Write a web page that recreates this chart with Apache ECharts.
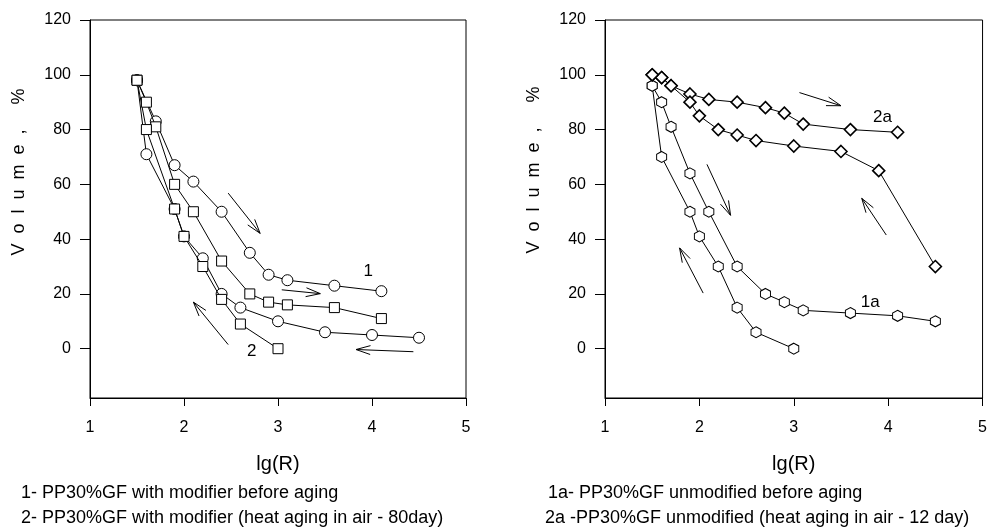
<!DOCTYPE html>
<html>
<head>
<meta charset="utf-8">
<script src="https://cdn.jsdelivr.net/npm/echarts@6/dist/echarts.min.js"></script>
<style>html,body{margin:0;padding:0;background:#fff;}#chart{width:990px;height:531px;}</style>
</head>
<body>
<div id="chart"></div>
<script>
// ---- Data ----
const xTicks = [1, 2, 3, 4, 5];
const yTicks = [0, 20, 40, 60, 80, 100, 120];

// Left panel: curve 1 (circles), curve 2 (squares)
const c1FwdX = [1.5, 1.7, 1.9, 2.1, 2.4, 2.7, 2.9, 3.1, 3.6, 4.1];
const c1FwdY = [98, 83, 67, 61, 50, 35, 27, 25, 23, 21];
const c1RetX = [4.5, 4.0, 3.5, 3.0, 2.6, 2.4, 2.2, 2.0, 1.9, 1.6, 1.5];
const c1RetY = [4, 5, 6, 10, 15, 20, 33, 41, 51, 71, 98];
const c2FwdX = [1.5, 1.6, 1.7, 1.9, 2.1, 2.4, 2.7, 2.9, 3.1, 3.6, 4.1];
const c2FwdY = [98, 90, 81, 60, 50, 32, 20, 17, 16, 15, 11];
const c2RetX = [3.0, 2.6, 2.4, 2.2, 2.0, 1.9, 1.6, 1.5];
const c2RetY = [0, 9, 18, 30, 41, 51, 80, 98];

// Right panel: curve 1a (hexagons), curve 2a (diamonds)
const c1aFwdX = [1.5, 1.6, 1.7, 1.9, 2.1, 2.4, 2.7, 2.9, 3.1, 3.6, 4.1, 4.5];
const c1aFwdY = [96, 90, 81, 64, 50, 30, 20, 17, 14, 13, 12, 10];
const c1aRetX = [3.0, 2.6, 2.4, 2.2, 2.0, 1.9, 1.6, 1.5];
const c1aRetY = [0, 6, 15, 30, 41, 50, 70, 96];
const c2aFwdX = [1.5, 1.6, 1.7, 1.9, 2.1, 2.4, 2.7, 2.9, 3.1, 3.6, 4.1];
const c2aFwdY = [100, 99, 96, 93, 91, 90, 88, 86, 82, 80, 79];
const c2aRetX = [4.5, 3.9, 3.5, 3.0, 2.6, 2.4, 2.2, 2.0, 1.9, 1.7, 1.6, 1.5];
const c2aRetY = [30, 65, 72, 74, 76, 78, 80, 85, 90, 96, 99, 100];

// Annotation arrows [x1, y1, x2, y2] in data units
const leftArrows = [[2.47, 56.8, 2.81, 42.1], [3.04, 21.5, 3.45, 20.1], [2.47, 1.5, 2.10, 17.0], [4.44, -1.1, 3.83, -0.3]];
const rightArrows = [[2.08, 67.3, 2.33, 48.7], [2.04, 20.3, 1.79, 36.8], [3.06, 93.5, 3.50, 88.7], [3.98, 41.5, 3.72, 54.9]];
// Curve labels
const leftLabelText = ['1', '2'];
const leftLabelX = [3.96, 2.72];
const leftLabelY = [28.3, -1];
const rightLabelText = ['2a', '1a'];
const rightLabelX = [3.94, 3.81];
const rightLabelY = [84.4, 17];

const xName = 'lg(R)';
const yName = 'V  o  l  u  m  e  ,     %';
const notesLeft = ['1- PP30%GF with modifier before aging', '2- PP30%GF with modifier (heat aging in air - 80day)'];
const notesRight = ['1a- PP30%GF unmodified before aging', '2a -PP30%GF unmodified (heat aging in air - 12 day)'];

// ---- Chart ----
const FONT = '"Liberation Sans", Arial, sans-serif';
const hexPath = 'path://M0,-1 L0.866,-0.5 L0.866,0.5 L0,1 L-0.866,0.5 L-0.866,-0.5 Z';

function pairs(xs, ys) { return xs.map((x, i) => [x, ys[i]]); }

function lineSeries(xs, ys, symbol, size, idx, z, bw) {
  return {
    type: 'line', xAxisIndex: idx, yAxisIndex: idx,
    data: pairs(xs, ys), symbol: symbol, symbolSize: size, showSymbol: true,
    lineStyle: { color: '#000', width: 1 },
    itemStyle: { color: '#fff', borderColor: '#000', borderWidth: bw || 1 },
    emphasis: { disabled: true }, animation: false, z: z, clip: false
  };
}

function arrowSeries(arr, idx) {
  return {
    type: 'custom', xAxisIndex: idx, yAxisIndex: idx, data: arr,
    encode: { x: [0, 2], y: [1, 3] }, clip: false, animation: false, silent: true,
    renderItem: function (params, api) {
      const p1 = api.coord([api.value(0), api.value(1)]);
      const p2 = api.coord([api.value(2), api.value(3)]);
      const ang = Math.atan2(p2[1] - p1[1], p2[0] - p1[0]);
      const L = 15, a = 0.3;
      const h1 = [p2[0] - L * Math.cos(ang - a), p2[1] - L * Math.sin(ang - a)];
      const h2 = [p2[0] - L * Math.cos(ang + a), p2[1] - L * Math.sin(ang + a)];
      return {
        type: 'group', children: [
          { type: 'line', shape: { x1: p1[0], y1: p1[1], x2: p2[0], y2: p2[1] }, style: { stroke: '#000', lineWidth: 1 } },
          { type: 'polyline', shape: { points: [h1, p2, h2] }, style: { stroke: '#000', fill: null, lineWidth: 1 } }
        ]
      };
    }
  };
}

function labelSeries(texts, xs, ys, idx) {
  return {
    type: 'custom', xAxisIndex: idx, yAxisIndex: idx,
    data: xs.map((x, i) => [x, ys[i], i]), clip: false, animation: false, silent: true,
    renderItem: function (params, api) {
      const p = api.coord([api.value(0), api.value(1)]);
      return { type: 'text', x: p[0], y: p[1], style: { text: texts[api.value(2)], font: '17px ' + FONT, fill: '#000', align: 'center', verticalAlign: 'middle' } };
    }
  };
}

function xAxisCfg(idx) {
  return {
    type: 'value', gridIndex: idx, min: 1, max: 5, interval: 1,
    name: xName, nameLocation: 'middle', nameGap: 56,
    nameTextStyle: { fontFamily: FONT, fontSize: 20, color: '#000' },
    axisLine: { show: true, onZero: false, lineStyle: { color: '#000', width: 1 } },
    axisTick: { show: true, length: 8, lineStyle: { color: '#000' } },
    axisLabel: { fontFamily: FONT, fontSize: 16, color: '#000', margin: 22 },
    splitLine: { show: false }
  };
}
function yAxisCfg(idx) {
  return {
    type: 'value', gridIndex: idx, min: -18, max: 120,
    axisLine: { show: true, onZero: false, lineStyle: { color: '#000', width: 1 } },
    axisTick: { show: true, length: 10, customValues: yTicks, lineStyle: { color: '#000' } },
    axisLabel: { fontFamily: FONT, fontSize: 16, color: '#000', margin: 19, customValues: yTicks },
    splitLine: { show: false }
  };
}

const chart = echarts.init(document.getElementById('chart'), null, { renderer: 'canvas' });
const gridStyle = { show: true, borderColor: '#000', borderWidth: 1, backgroundColor: 'transparent', containLabel: false };
const noteFont = '18px ' + FONT;
chart.setOption({
  backgroundColor: '#fff',
  animation: false,
  grid: [
    Object.assign({ left: 90, right: 524, top: 20, bottom: 133 }, gridStyle),
    Object.assign({ left: 605, right: 6, top: 20, bottom: 133 }, gridStyle)
  ],
  xAxis: [xAxisCfg(0), xAxisCfg(1)],
  yAxis: [yAxisCfg(0), yAxisCfg(1)],
  series: [
    lineSeries(c1FwdX, c1FwdY, 'circle', 11, 0, 2),
    lineSeries(c1RetX, c1RetY, 'circle', 11, 0, 2),
    lineSeries(c2FwdX, c2FwdY, 'rect', 10, 0, 3),
    lineSeries(c2RetX, c2RetY, 'rect', 10, 0, 3),
    lineSeries(c1aFwdX, c1aFwdY, hexPath, [10, 11], 1, 2),
    lineSeries(c1aRetX, c1aRetY, hexPath, [10, 11], 1, 2),
    lineSeries(c2aFwdX, c2aFwdY, 'diamond', 12, 1, 3, 1.6),
    lineSeries(c2aRetX, c2aRetY, 'diamond', 12, 1, 3, 1.6),
    arrowSeries(leftArrows, 0),
    arrowSeries(rightArrows, 1),
    labelSeries(leftLabelText, leftLabelX, leftLabelY, 0),
    labelSeries(rightLabelText, rightLabelX, rightLabelY, 1)
  ],
  graphic: [
    { type: 'text', x: 19, y: 172, rotation: Math.PI / 2, style: { text: yName, font: '18px ' + FONT, fill: '#000', align: 'center', verticalAlign: 'middle' } },
    { type: 'text', x: 534, y: 170, rotation: Math.PI / 2, style: { text: yName, font: '18px ' + FONT, fill: '#000', align: 'center', verticalAlign: 'middle' } },
    { type: 'text', x: 21, y: 493, style: { text: notesLeft[0], font: noteFont, fill: '#000', verticalAlign: 'middle' } },
    { type: 'text', x: 21, y: 518, style: { text: notesLeft[1], font: noteFont, fill: '#000', verticalAlign: 'middle' } },
    { type: 'text', x: 548, y: 493, style: { text: notesRight[0], font: noteFont, fill: '#000', verticalAlign: 'middle' } },
    { type: 'text', x: 545, y: 518, style: { text: notesRight[1], font: noteFont, fill: '#000', verticalAlign: 'middle' } }
  ]
});
</script>
</body>
</html>
